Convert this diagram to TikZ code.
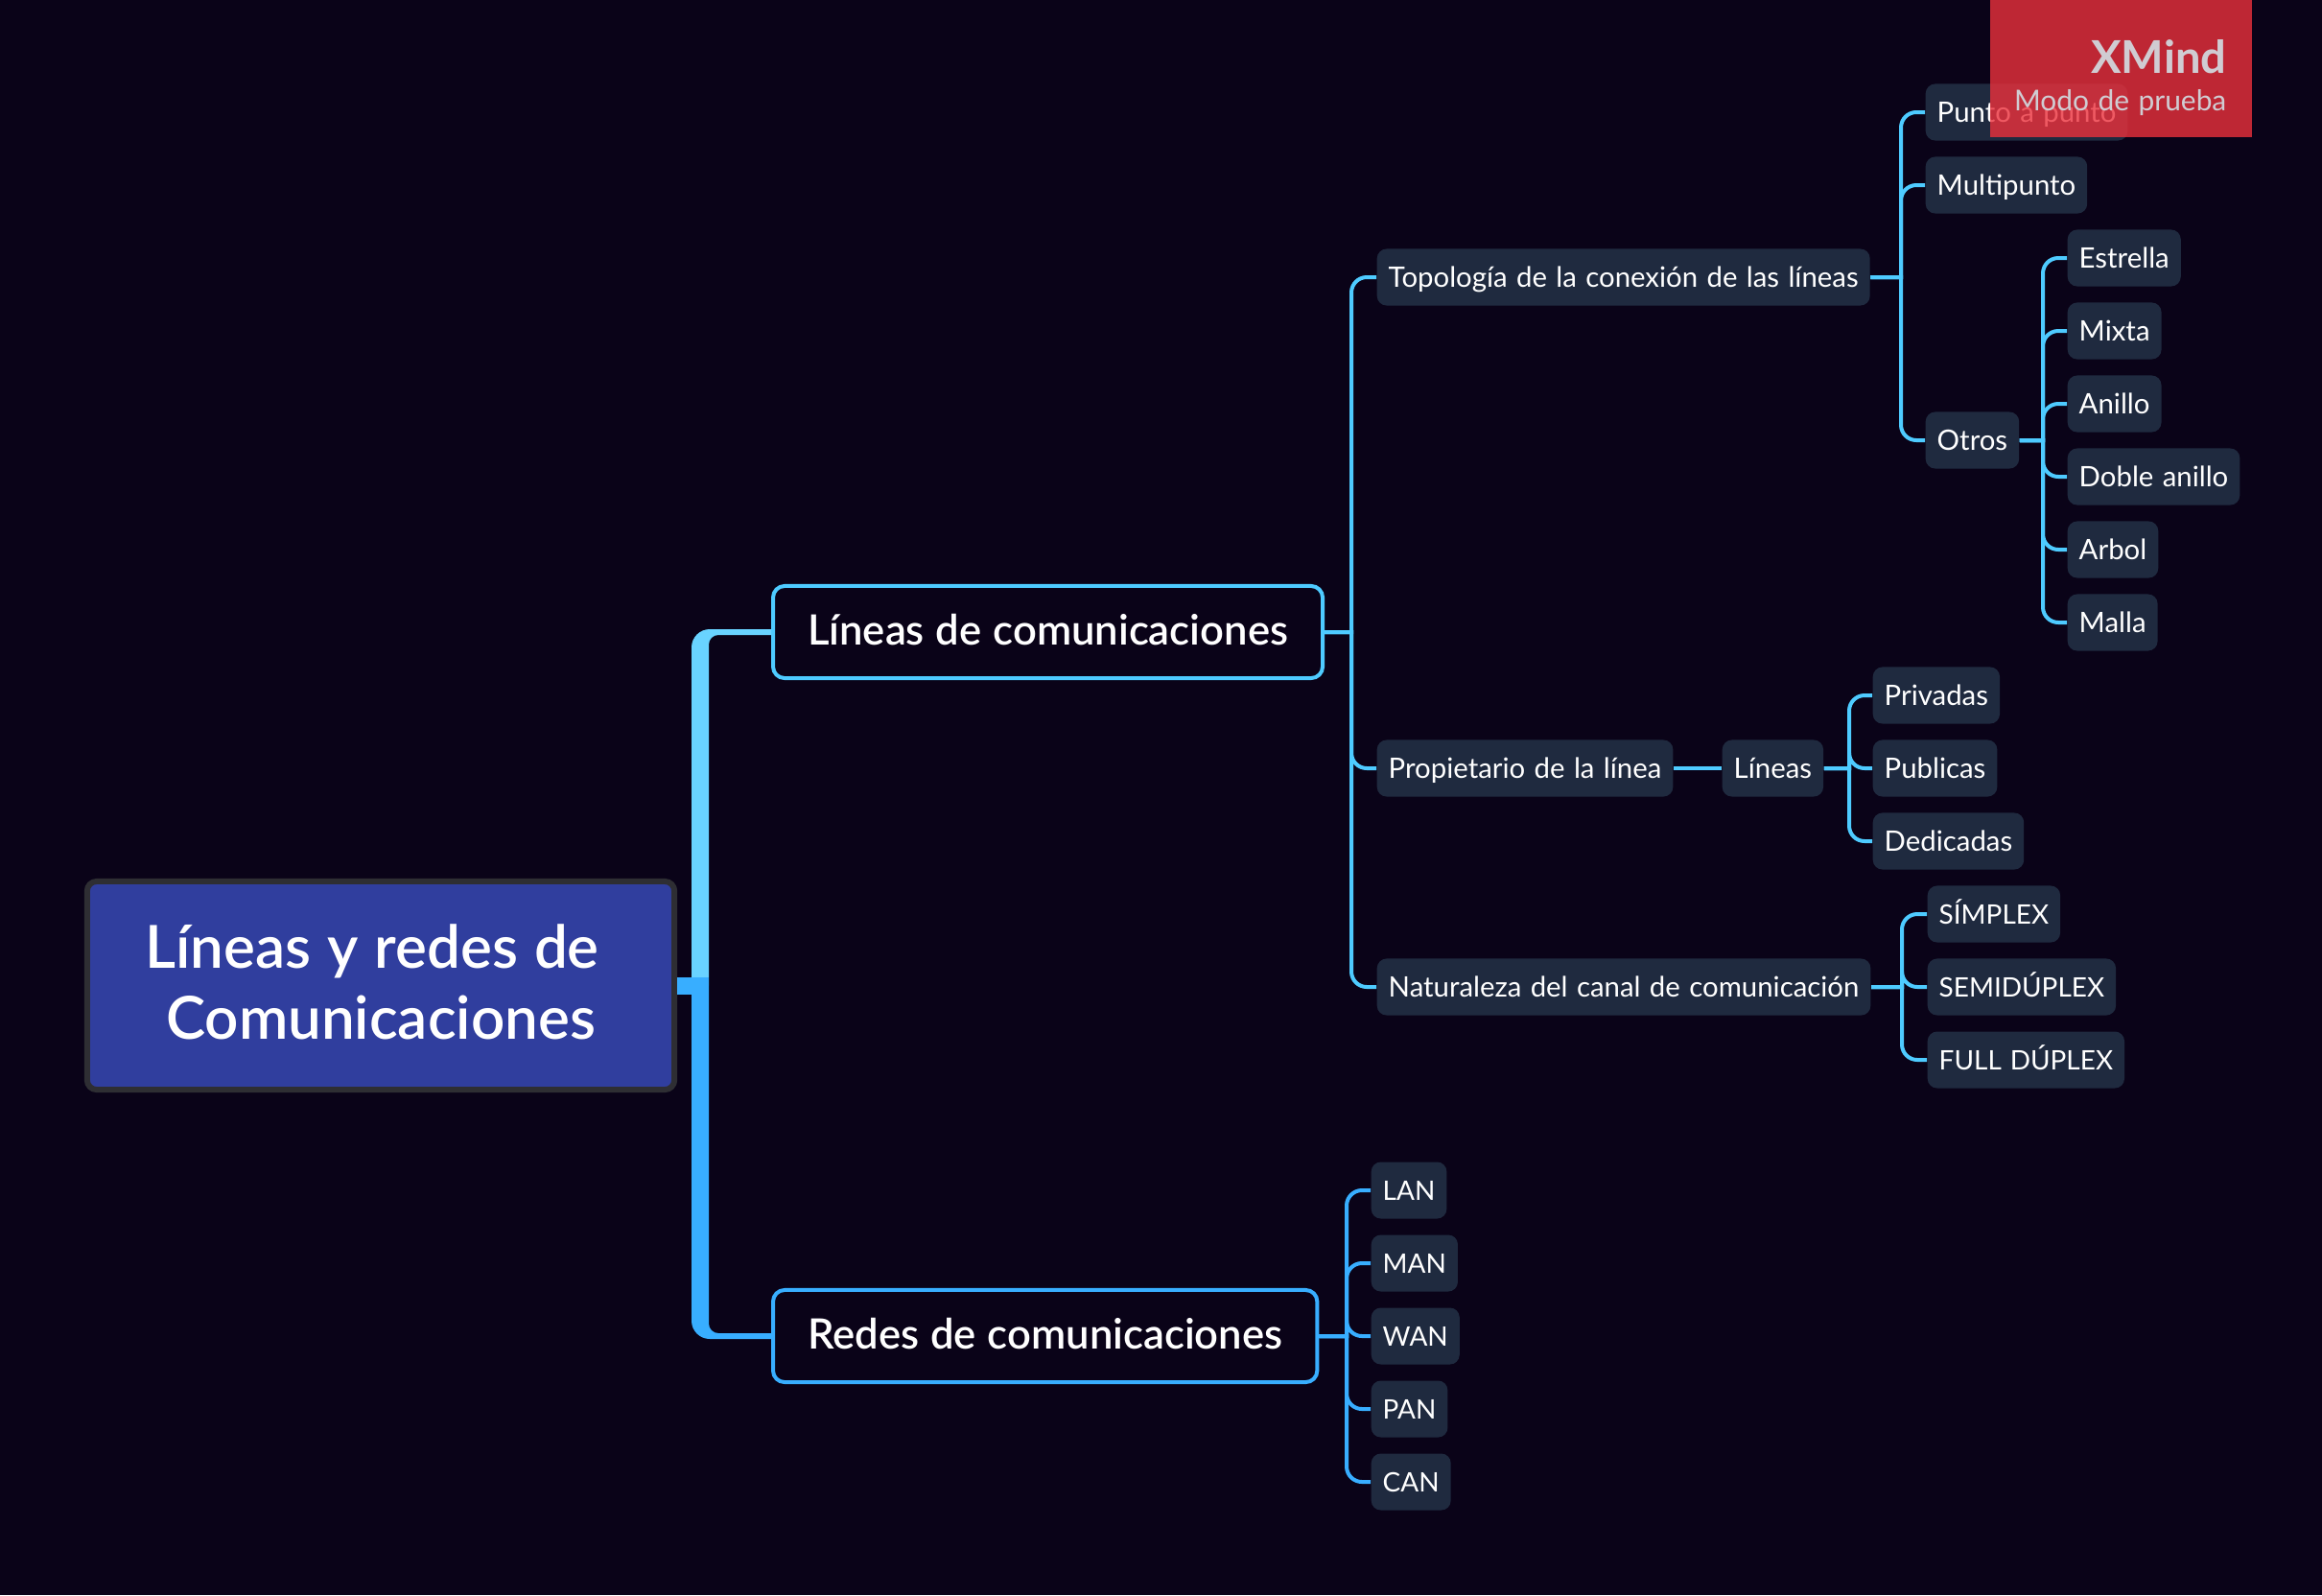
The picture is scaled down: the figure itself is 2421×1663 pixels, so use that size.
\documentclass[tikz,border=0pt]{standalone}
\usepackage{fontspec}
\setmainfont{Lato}[WordSpace=1.25]
\newfontfamily\semifont{Lato Semibold}[WordSpace=1.1]
\usetikzlibrary{positioning,calc}
\definecolor{bgdark}{HTML}{0A0318}
\definecolor{leaffill}{HTML}{1F2A3F}
\definecolor{linkup}{HTML}{4ECBFF}
\definecolor{linkdown}{HTML}{38AEFF}
\definecolor{rootfill}{HTML}{303E9E}
\definecolor{rootline}{HTML}{2E2E33}
\definecolor{markred}{HTML}{EC313C}
\definecolor{marktext}{HTML}{D0CCD2}
\tikzset{
  leaf/.style={anchor=west,xshift=-.1mm,fill=leaffill,rounded corners=1mm,text=white,
    font=\fontsize{8.35}{10}\selectfont,minimum height=5.9mm,inner ysep=0pt,inner xsep=1.2mm,
    text height=7pt,text depth=1pt},
  leafcaps/.style={leaf,font=\fontsize{7.95}{10}\selectfont},
  topicnode/.style={anchor=west,draw=#1,line width=.4mm,rounded corners=1.2mm,text=white,
    font=\fontsize{12.4}{14}\selectfont\semifont,minimum height=9.6mm,inner ysep=0pt,inner xsep=3.6mm,
    text height=9.6pt,text depth=1.9pt},
  rootnode/.style={draw=rootline,fill=rootfill,line width=.6mm,rounded corners=1mm,text=white,
    font=\fontsize{17.6}{20.9}\selectfont\semifont,align=center,minimum width=61.2mm,minimum height=21.7mm},
  linkb/.style={draw=linkup,line width=.4mm},
  linkc/.style={draw=linkdown,line width=.4mm}
}
\begin{document}
\begin{tikzpicture}[x=.01cm,y=-.01cm]

  \fill[bgdark] (0,0) rectangle (2421,1663);
  \useasboundingbox (0,0) rectangle (2421,1663);

  \node[rootnode] (root) at (397,1027.5) {L\'ineas y redes de\hspace*{1.8mm}\\Comunicaciones\rule[-.8mm]{0pt}{.8mm}};

  \node[topicnode=linkup] (lineas) at (804,659) {L\'ineas de comunicaciones};
  \node[topicnode=linkdown] (redes) at (804,1393) {Redes de comunicaciones};

  \node[leaf] (topologia) at (1436,289) {Topolog\'ia de la conexi\'on de las l\'ineas};
  \node[leaf] (propietario) at (1436,801) {Propietario de la l\'inea};
  \node[leaf] (naturaleza) at (1436,1029) {Naturaleza del canal de comunicaci\'on};

  \node[leaf] (punto) at (2008,117) {Punto a punto};
  \node[leaf] (multipunto) at (2008,193) {Multipunto};
  \node[leaf] (otros) at (2008,459) {Otros};

  \node[leaf] (estrella) at (2156,269) {Estrella};
  \node[leaf] (mixta) at (2156,345) {Mixta};
  \node[leaf] (anillo) at (2156,421) {Anillo};
  \node[leaf] (doble) at (2156,497) {Doble anillo};
  \node[leaf] (arbol) at (2156,573) {Arbol};
  \node[leaf] (malla) at (2156,649) {Malla};

  \node[leaf] (lineasb) at (1796,801) {L\'ineas};
  \node[leaf] (privadas) at (1953,725) {Privadas};
  \node[leaf] (publicas) at (1953,801) {Publicas};
  \node[leaf] (dedicadas) at (1953,877) {Dedicadas};

  \node[leafcaps] (simplex) at (2010,953) {S\'IMPLEX};
  \node[leafcaps] (semi) at (2010,1029) {SEMID\'UPLEX};
  \node[leafcaps] (full) at (2010,1105) {FULL D\'UPLEX};

  \node[leafcaps] (lan) at (1430,1241) {LAN};
  \node[leafcaps] (man) at (1430,1317) {MAN};
  \node[leafcaps] (wan) at (1430,1393) {WAN};
  \node[leafcaps] (pan) at (1430,1469) {PAN};
  \node[leafcaps] (can) at (1430,1545) {CAN};

  % bus lines
  \coordinate (hubo) at (721,1027);
  \coordinate (hubi) at (739,1027);
  \coordinate (busa) at (1409,659);
  \coordinate (busb) at (1982,289);
  \coordinate (busc) at (2130,459);
  \coordinate (busd) at (1928,801);
  \coordinate (buse) at (1983,1029);
  \coordinate (busf) at (1404,1393);

  % thick trunk from the root
  \fill[linkup!85!white] (hubo) [rounded corners=1.9mm] -- ($(hubo |- lineas.west)+(0,-3)$) [sharp corners] -- ($(lineas.west)+(0,-3)$) -- ($(lineas.west)+(0,3)$) [rounded corners=1mm] -- ($(hubi |- lineas.west)+(0,3)$) [sharp corners] -- (hubi) -- cycle;
  \fill[linkdown] (hubo) [rounded corners=1.9mm] -- ($(hubo |- redes.west)+(0,3)$) [sharp corners] -- ($(redes.west)+(0,3)$) -- ($(redes.west)+(0,-3)$) [rounded corners=1mm] -- ($(hubi |- redes.west)+(0,-3)$) [sharp corners] -- (hubi) -- cycle;
  \draw[linkdown,line width=1.8mm] (root.east) -- (hubi |- root.east);

  \foreach \kid in {topologia,propietario,naturaleza}
    \draw[linkb] (lineas.east) -- (busa) [rounded corners=1.6mm] |- (\kid.west);
  \foreach \kid in {punto,multipunto,otros}
    \draw[linkb] (topologia.east) -- (busb) [rounded corners=1.6mm] |- (\kid.west);
  \foreach \kid in {estrella,mixta,anillo,doble,arbol,malla}
    \draw[linkb] (otros.east) -- (busc) [rounded corners=1.6mm] |- (\kid.west);
  \draw[linkb] (propietario.east) -- (lineasb.west);
  \foreach \kid in {privadas,publicas,dedicadas}
    \draw[linkb] (lineasb.east) -- (busd) [rounded corners=1.6mm] |- (\kid.west);
  \foreach \kid in {simplex,semi,full}
    \draw[linkb] (naturaleza.east) -- (buse) [rounded corners=1.6mm] |- (\kid.west);
  \foreach \kid in {lan,man,wan,pan,can}
    \draw[linkc] (redes.east) -- (busf) [rounded corners=1.6mm] |- (\kid.west);

  % trial mark on top
  \fill[markred,fill opacity=.8] (2075,0) rectangle (2348,143);
  \node[anchor=base east,text=marktext,inner sep=0pt,font=\fontsize{13.4}{15}\selectfont\bfseries] (xmind) at (2322,76) {XMind};
  \node[anchor=base east,text=marktext,inner sep=0pt,font=\fontsize{8.5}{11}\selectfont] (modo) at (2322,115) {Modo de prueba};

\end{tikzpicture}
\end{document}
